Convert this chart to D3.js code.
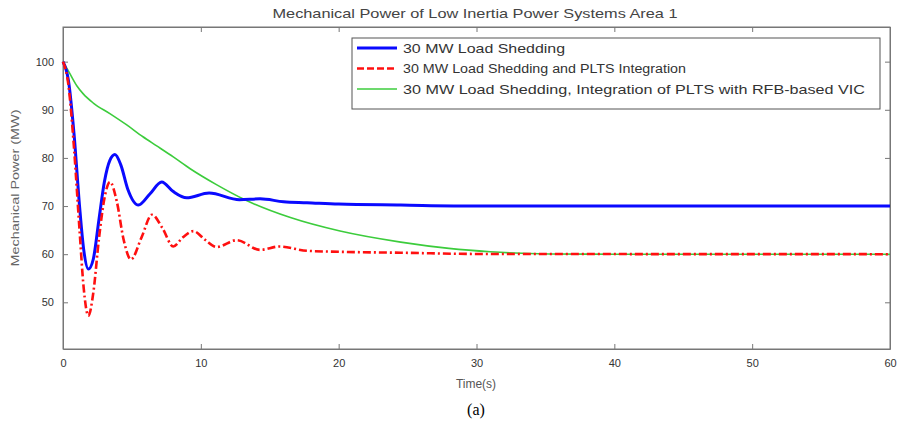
<!DOCTYPE html>
<html>
<head>
<meta charset="utf-8">
<script src="https://cdn.jsdelivr.net/npm/d3@7"></script>
<style>
  body { margin: 0; background: #fff; }
  svg { display: block; font-family: Arial, "Liberation Sans", sans-serif; }
</style>
</head>
<body>
<div id="chart"></div>
<script>
// values
const xTicks = [0, 10, 20, 30, 40, 50, 60];
const yTicks = [50, 60, 70, 80, 90, 100];

const blueTime  = [0, 0.4, 0.8, 1.2, 1.5, 1.84, 2.2, 2.6, 3.0, 3.4, 3.77, 4.2, 4.7, 5.47, 6.3, 7.16, 8.0, 8.97, 10.6, 12.8, 14.3, 16, 17.7, 20, 24.5, 30, 60];
const blueValue = [100, 96, 85, 70, 61, 56.9, 59, 67, 75, 79.5, 80.7, 78.5, 73.5, 70.2, 72.5, 75, 73, 71.7, 72.7, 71.3, 71.5, 70.9, 70.7, 70.4, 70.2, 70, 70];

const redTime  = [0, 0.4, 0.8, 1.2, 1.5, 1.84, 2.2, 2.6, 3.0, 3.41, 3.9, 4.4, 4.93, 5.7, 6.45, 7.2, 8.0, 8.7, 9.46, 10.3, 11.15, 12.6, 14.3, 15.7, 17.7, 20, 24.5, 30, 60];
const redValue = [100, 95, 82, 65, 53, 47.2, 52, 63, 71.5, 75, 71, 63, 58.9, 63.5, 68.2, 65.5, 61.6, 63.5, 64.8, 63, 61.5, 62.9, 60.9, 61.6, 60.7, 60.5, 60.3, 60.05, 60];

const greenTime  = [0, 0.5, 1.0, 1.47, 2.2, 3.4, 4.6, 5.8, 6.8, 8.0, 9.2, 11.1, 13.2, 16.5, 20.1, 24.5, 28, 31, 35.3, 40, 60];
const greenValue = [100, 97.5, 95, 93.3, 91.4, 89.2, 86.9, 84.4, 82.5, 80.2, 77.8, 74.5, 71.3, 67.6, 64.8, 62.5, 61.2, 60.5, 60.05, 60, 60];

const seriesNames = [
  "30 MW Load Shedding",
  "30 MW Load Shedding and PLTS Integration",
  "30 MW Load Shedding, Integration of PLTS with RFB-based VIC"
];

const W = 900, H = 427;
const margin = {top: 27, right: 10, bottom: 78, left: 63};
const width = W - margin.left - margin.right,
      height = H - margin.top - margin.bottom;

const svg = d3.select("#chart").append("svg")
    .attr("width", W)
    .attr("height", H);

const g = svg.append("g")
    .attr("transform", `translate(${margin.left},${margin.top})`);

const x = d3.scaleLinear().domain([0, 60]).range([0, width]);
const y = d3.scaleLinear().domain([40.3, 107.2]).range([height, 0]);

// box and inward ticks (matlab style)
const axisColor = "#777";
g.append("rect")
    .attr("width", width).attr("height", height)
    .attr("fill", "none").attr("stroke", axisColor).attr("stroke-width", 1);

g.append("g")
    .attr("transform", `translate(0,${height})`)
    .call(d3.axisBottom(x).tickValues(xTicks).tickSizeInner(-5).tickSizeOuter(0).tickPadding(10));
g.append("g")
    .call(d3.axisLeft(y).tickValues(yTicks).tickSizeInner(-5).tickSizeOuter(0).tickPadding(9));
g.append("g")
    .call(d3.axisTop(x).tickValues(xTicks).tickSizeInner(-5).tickSizeOuter(0).tickFormat(""));
g.append("g")
    .attr("transform", `translate(${width},0)`)
    .call(d3.axisRight(y).tickValues(yTicks).tickSizeInner(-5).tickSizeOuter(0).tickFormat(""));

g.selectAll(".domain").attr("stroke", axisColor);
g.selectAll(".tick line").attr("stroke", axisColor);
g.selectAll(".tick text").attr("fill", "#333").attr("font-size", "11px");

// lines
const line = d3.line()
    .x(d => x(d[0]))
    .y(d => y(d[1]))
    .curve(d3.curveMonotoneX);

const greenData = greenTime.map((t, i) => [t, greenValue[i]]);
const blueData = blueTime.map((t, i) => [t, blueValue[i]]);
const redData = redTime.map((t, i) => [t, redValue[i]]);

g.append("path").datum(greenData)
    .attr("d", line).attr("fill", "none")
    .attr("stroke", "#3ccc3c").attr("stroke-width", 1.6);
g.append("path").datum(blueData)
    .attr("d", line).attr("fill", "none")
    .attr("stroke", "#0a0aff").attr("stroke-width", 3);
g.append("path").datum(redData)
    .attr("d", line).attr("fill", "none")
    .attr("stroke", "#ff1010").attr("stroke-width", 2.6)
    .attr("stroke-dasharray", "8,3,2,3");

// legend
const legend = svg.append("g").attr("transform", "translate(352,38)");
legend.append("rect")
    .attr("width", 528).attr("height", 71)
    .attr("fill", "#fff").attr("stroke", "#555").attr("stroke-width", 1);

const legendItems = [
  {color: "#0a0aff", w: 3, dash: null, text: seriesNames[0], len: 162, size: 13},
  {color: "#ff1010", w: 2.4, dash: "7,3", text: seriesNames[1], len: 283, size: 12},
  {color: "#3ccc3c", w: 1.6, dash: null, text: seriesNames[2], len: 462, size: 13}
];
legendItems.forEach((d, i) => {
  const yy = 10 + i * 20.5;
  legend.append("line")
      .attr("x1", 5).attr("x2", 45).attr("y1", yy).attr("y2", yy)
      .attr("stroke", d.color).attr("stroke-width", d.w)
      .attr("stroke-dasharray", d.dash);
  legend.append("text")
      .attr("x", 51).attr("y", yy).attr("dy", "0.35em")
      .attr("font-size", d.size + "px").attr("fill", "#333")
      .attr("textLength", d.len).attr("lengthAdjust", "spacingAndGlyphs")
      .text(d.text);
});

// titles
svg.append("text")
    .attr("x", 475).attr("y", 13).attr("dy", "0.35em")
    .attr("text-anchor", "middle").attr("font-size", "13px").attr("fill", "#444")
    .attr("textLength", 405).attr("lengthAdjust", "spacingAndGlyphs")
    .text("Mechanical Power of Low Inertia Power Systems Area 1");

svg.append("text")
    .attr("x", 476).attr("y", 384).attr("dy", "0.35em")
    .attr("text-anchor", "middle").attr("font-size", "12px").attr("fill", "#555")
    .text("Time(s)");

svg.append("text")
    .attr("transform", "translate(15,188)rotate(-90)")
    .attr("dy", "0.35em")
    .attr("text-anchor", "middle").attr("font-size", "11px").attr("fill", "#666")
    .attr("textLength", 157).attr("lengthAdjust", "spacingAndGlyphs")
    .text("Mechanical Power (MW)");

svg.append("text")
    .attr("x", 476).attr("y", 409).attr("dy", "0.35em")
    .attr("text-anchor", "middle")
    .attr("font-family", "'Liberation Serif', 'DejaVu Serif', serif")
    .attr("font-size", "16px").attr("fill", "#000")
    .text("(a)");
</script>
</body>
</html>
